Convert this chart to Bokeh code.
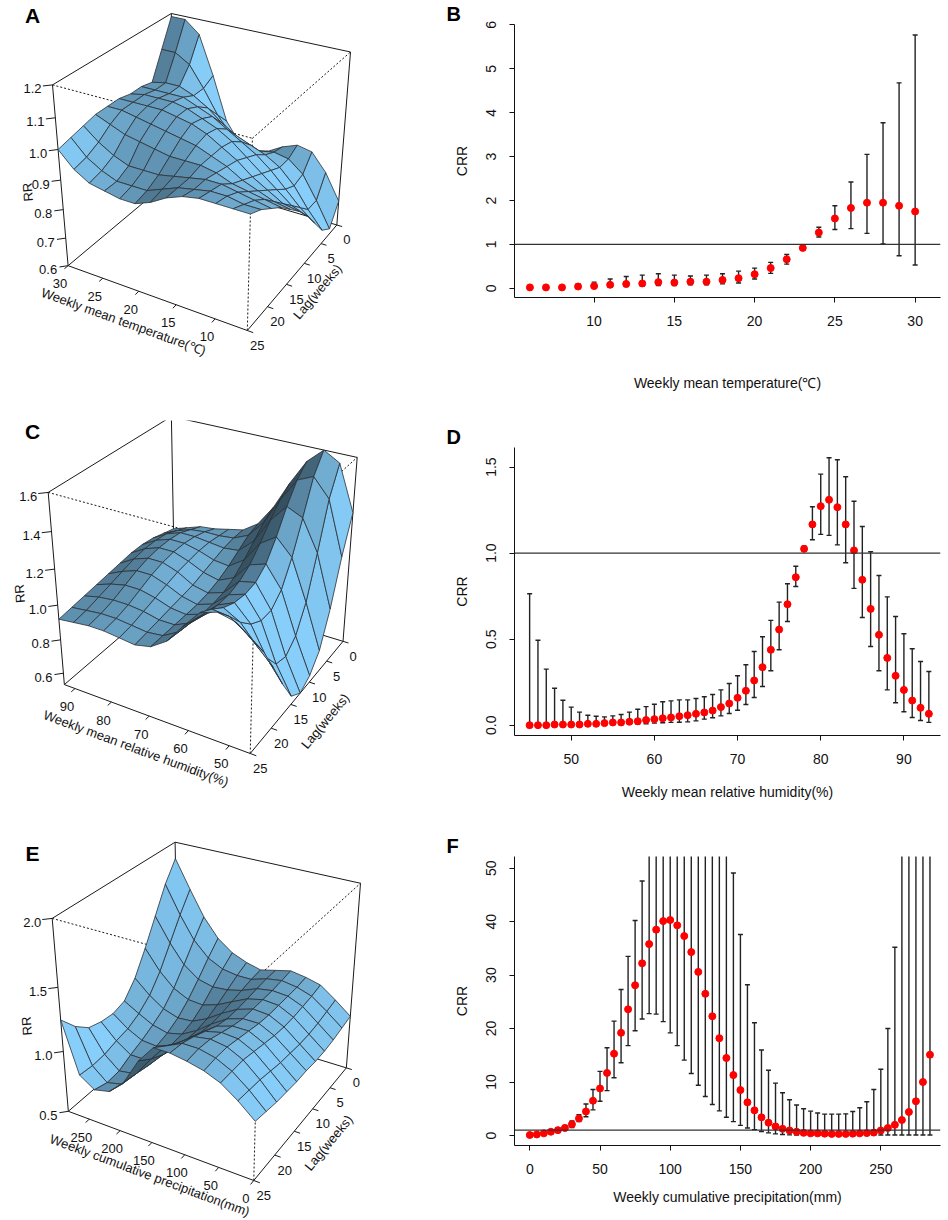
import math
import numpy as np
from bokeh.plotting import figure
from bokeh.models import Range1d, Span, FixedTicker, NumeralTickFormatter
from bokeh.layouts import column, row
from bokeh.embed import file_html
from bokeh.resources import INLINE
from bokeh.core.properties import value

FONT = "Liberation Sans"

# ------------------------------------------------------------------ panel B
temp_x = [6, 7, 8, 9, 10, 11, 12, 13, 14, 15, 16, 17, 18, 19, 20, 21, 22, 23, 24, 25, 26, 27, 28, 29, 30]
temp_crr = [0.02, 0.02, 0.02, 0.04, 0.05, 0.08, 0.10, 0.11, 0.14, 0.13, 0.15, 0.15, 0.19, 0.23, 0.32,
            0.46, 0.66, 0.92, 1.27, 1.59, 1.83, 1.95, 1.95, 1.88, 1.75]
temp_lo = [0.01, 0.01, 0.01, 0.015, 0.02, 0.03, 0.04, 0.05, 0.06, 0.06, 0.08, 0.08, 0.10, 0.12, 0.21,
           0.34, 0.55, 0.87, 1.17, 1.34, 1.36, 1.25, 1.01, 0.74, 0.53]
temp_hi = [0.04, 0.04, 0.06, 0.10, 0.14, 0.21, 0.27, 0.30, 0.33, 0.30, 0.28, 0.30, 0.33, 0.39, 0.46,
           0.59, 0.77, 0.98, 1.39, 1.88, 2.42, 3.05, 3.77, 4.68, 5.77]
temp_xticks = [10, 15, 20, 25, 30]
temp_yticks = [0, 1, 2, 3, 4, 5, 6]

# ------------------------------------------------------------------ panel D
hum_x = list(range(45, 94))
hum_crr = [0.0, 0.0, 0.0, 0.004, 0.004, 0.004, 0.004, 0.008, 0.008, 0.012, 0.016, 0.016, 0.02, 0.023,
           0.03, 0.035, 0.04, 0.045, 0.052, 0.058, 0.066, 0.074, 0.085, 0.105, 0.126, 0.159, 0.2, 0.26,
           0.337, 0.438, 0.556, 0.703, 0.86, 1.025, 1.167, 1.273, 1.31, 1.267, 1.167, 1.016, 0.845,
           0.676, 0.525, 0.391, 0.287, 0.205, 0.143, 0.101, 0.066]
hum_lo = [0.0, 0.0, 0.0, 0.0, 0.0, 0.0, 0.0, 0.0, 0.001, 0.002, 0.003, 0.004, 0.005, 0.006,
          0.008, 0.012, 0.014, 0.016, 0.017, 0.019, 0.025, 0.035, 0.043, 0.054, 0.068, 0.087, 0.12, 0.161,
          0.225, 0.316, 0.438, 0.603, 0.806, 1.01, 1.078, 1.109, 1.103, 1.048, 0.944, 0.795, 0.626,
          0.457, 0.316, 0.205, 0.13, 0.078, 0.045, 0.027, 0.016]
hum_hi = [0.764, 0.494, 0.326, 0.215, 0.145, 0.105, 0.076, 0.058, 0.052, 0.048, 0.054, 0.062, 0.076, 0.093,
          0.108, 0.122, 0.136, 0.141, 0.147, 0.147, 0.155, 0.165, 0.178, 0.205, 0.242, 0.287, 0.351, 0.428,
          0.514, 0.609, 0.715, 0.822, 0.924, 1.04, 1.27, 1.459, 1.554, 1.543, 1.444, 1.302, 1.155,
          1.008, 0.870, 0.746, 0.632, 0.531, 0.444, 0.370, 0.312]
hum_xticks = [50, 60, 70, 80, 90]
hum_yticks = [0.0, 0.5, 1.0, 1.5]

# ------------------------------------------------------------------ panel F
prec_x = list(range(0, 290, 5))
prec_crr = [0.1, 0.2, 0.4, 0.7, 1.0, 1.4, 2.1, 3.2, 4.5, 6.5, 8.8, 11.7, 15.3, 19.2, 23.6, 28.1, 32.2,
            35.8, 38.5, 40.1, 40.3, 39.3, 37.3, 34.3, 30.6, 26.5, 22.3, 18.2, 14.5, 11.3, 8.5, 6.2, 4.7,
            3.4, 2.4, 1.7, 1.25, 0.95, 0.7, 0.5, 0.4, 0.4, 0.35, 0.3, 0.3, 0.3, 0.35, 0.4, 0.45, 0.55,
            0.95, 1.4, 2.0, 2.9, 4.4, 6.4, 10.0, 15.1]
prec_lo = [0.05, 0.1, 0.25, 0.45, 0.7, 1.0, 1.5, 2.6, 3.5, 4.8, 6.4, 8.4, 10.8, 13.6, 16.8, 19.6, 21.8,
           22.8, 22.7, 21.3, 19.2, 16.8, 14.1, 11.6, 9.4, 7.3, 5.8, 4.6, 3.4, 2.6, 1.9, 1.4, 1.1, 0.75,
           0.5, 0.3, 0.2, 0.12, 0.1, 0.1, 0.1, 0.1, 0.1, 0.1, 0.1, 0.1, 0.1, 0.1, 0.1, 0.1, 0.1, 0.1,
           0.1, 0.1, 0.1, 0.1, 0.1, 0.1]
prec_hi = [0.2, 0.35, 0.6, 1.0, 1.4, 1.9, 2.7, 3.9, 5.9, 8.6, 12.0, 16.4, 21.4, 27.3, 33.5, 40.2, 47.6,
           58, 66, 75, 85, 92, 96, 97, 95, 90, 84, 75, 62, 49.1, 37.6, 28.2, 21.1, 16.0, 12.2, 9.8, 8.0,
           6.7, 5.7, 5.0, 4.55, 4.2, 4.0, 4.0, 4.0, 4.05, 4.5, 5.2, 6.3, 8.6, 12.4, 20.0, 35.2, 60, 85,
           110, 150, 200]
prec_xticks = [0, 50, 100, 150, 200, 250]
prec_yticks = [0, 10, 20, 30, 40, 50]

# ------------------------------------------------------------------ 3-D surfaces (rows = lag)
lag_grid = [0, 2.5, 5, 7.5, 10, 12.5, 15, 17.5, 20, 22.5, 25]
lag_ticks = [0, 5, 10, 15, 20, 25]

temp_grid = [6, 8, 10, 12, 14, 16, 18, 20, 22, 24, 26, 28, 30]
rr_temp = [
    [0.69, 0.78, 0.84, 0.85, 0.83, 0.80, 0.78, 0.80, 0.87, 1.02, 1.15, 1.19, 1.19],
    [0.62, 0.71, 0.79, 0.83, 0.84, 0.83, 0.83, 0.86, 0.92, 1.00, 1.07, 1.10, 1.10],
    [0.65, 0.71, 0.78, 0.83, 0.86, 0.88, 0.90, 0.93, 0.97, 1.00, 1.02, 1.02, 1.01],
    [0.71, 0.75, 0.80, 0.85, 0.89, 0.92, 0.95, 0.98, 1.00, 1.02, 1.02, 1.02, 1.02],
    [0.77, 0.79, 0.83, 0.87, 0.91, 0.95, 0.98, 1.00, 1.02, 1.03, 1.03, 1.03, 1.02],
    [0.82, 0.83, 0.86, 0.89, 0.93, 0.96, 0.99, 1.01, 1.02, 1.03, 1.03, 1.03, 1.03],
    [0.86, 0.87, 0.89, 0.91, 0.94, 0.96, 0.98, 0.99, 1.00, 1.01, 1.02, 1.03, 1.03],
    [0.90, 0.91, 0.92, 0.93, 0.95, 0.96, 0.96, 0.96, 0.97, 0.98, 0.99, 1.01, 1.03],
    [0.93, 0.94, 0.95, 0.96, 0.96, 0.95, 0.94, 0.93, 0.93, 0.93, 0.95, 0.98, 1.02],
    [0.96, 0.96, 0.97, 0.97, 0.96, 0.95, 0.93, 0.91, 0.91, 0.91, 0.93, 0.96, 1.01],
    [0.98, 0.98, 0.98, 0.98, 0.97, 0.95, 0.92, 0.90, 0.90, 0.91, 0.92, 0.95, 1.00],
]
zlim_temp = [0.6, 1.2]
temp3d_ticks = [10, 15, 20, 25, 30]
rr_ticks_temp = [0.6, 0.7, 0.8, 0.9, 1.0, 1.1, 1.2]

hum_grid = [45, 49, 53, 57, 61, 65, 69, 73, 77, 81, 85, 89, 93]
rr_hum = [
    [1.30, 1.55, 1.60, 1.52, 1.38, 1.22, 1.10, 1.04, 1.02, 1.00, 0.99, 0.96, 0.93],
    [1.10, 1.40, 1.50, 1.46, 1.33, 1.18, 1.08, 1.04, 1.03, 1.03, 1.02, 0.99, 0.95],
    [0.85, 1.15, 1.32, 1.36, 1.26, 1.12, 1.04, 1.03, 1.04, 1.05, 1.05, 1.02, 0.97],
    [0.66, 0.92, 1.15, 1.24, 1.18, 1.06, 1.00, 1.01, 1.04, 1.06, 1.06, 1.03, 0.98],
    [0.57, 0.78, 1.02, 1.14, 1.11, 1.01, 0.97, 0.99, 1.03, 1.06, 1.06, 1.03, 0.98],
    [0.53, 0.72, 0.96, 1.09, 1.07, 0.98, 0.95, 0.97, 1.02, 1.05, 1.05, 1.02, 0.97],
    [0.58, 0.74, 0.96, 1.08, 1.05, 0.97, 0.94, 0.96, 1.00, 1.03, 1.03, 1.00, 0.96],
    [0.72, 0.84, 1.00, 1.09, 1.05, 0.97, 0.94, 0.95, 0.98, 1.00, 1.00, 0.98, 0.95],
    [0.88, 0.97, 1.07, 1.12, 1.06, 0.98, 0.94, 0.94, 0.96, 0.97, 0.97, 0.96, 0.94],
    [1.03, 1.10, 1.16, 1.17, 1.09, 0.99, 0.94, 0.93, 0.94, 0.95, 0.95, 0.94, 0.93],
    [1.15, 1.22, 1.24, 1.21, 1.11, 1.00, 0.94, 0.92, 0.93, 0.94, 0.94, 0.93, 0.92],
]
zlim_hum = [0.53, 1.6]
hum3d_ticks = [50, 60, 70, 80, 90]
rr_ticks_hum = [0.6, 0.8, 1.0, 1.2, 1.4, 1.6]

prec_grid = [0, 24, 48, 71, 95, 119, 143, 166, 190, 214, 238, 261, 285]
rr_prec = [
    [0.95, 1.05, 1.14, 1.17, 1.19, 1.16, 1.13, 1.16, 1.21, 1.30, 1.45, 1.65, 1.87],
    [0.93, 1.03, 1.12, 1.16, 1.18, 1.16, 1.12, 1.12, 1.14, 1.20, 1.32, 1.50, 1.72],
    [0.91, 1.01, 1.11, 1.16, 1.17, 1.15, 1.10, 1.07, 1.06, 1.09, 1.18, 1.33, 1.52],
    [0.90, 1.00, 1.10, 1.16, 1.17, 1.14, 1.08, 1.02, 0.98, 0.99, 1.05, 1.16, 1.32],
    [0.90, 1.00, 1.10, 1.16, 1.17, 1.13, 1.06, 0.98, 0.92, 0.91, 0.95, 1.03, 1.14],
    [0.91, 1.01, 1.11, 1.17, 1.17, 1.13, 1.05, 0.96, 0.89, 0.86, 0.89, 0.95, 1.02],
    [0.91, 1.02, 1.13, 1.19, 1.19, 1.15, 1.06, 0.96, 0.88, 0.83, 0.84, 0.90, 0.99],
    [0.92, 1.04, 1.15, 1.21, 1.22, 1.19, 1.10, 0.98, 0.87, 0.80, 0.80, 0.88, 1.00],
    [0.93, 1.06, 1.17, 1.23, 1.25, 1.23, 1.14, 1.01, 0.88, 0.77, 0.75, 0.85, 1.03],
    [0.95, 1.07, 1.17, 1.23, 1.26, 1.26, 1.20, 1.06, 0.90, 0.77, 0.74, 0.84, 1.12],
    [0.97, 1.08, 1.17, 1.22, 1.25, 1.27, 1.27, 1.13, 0.92, 0.80, 0.77, 0.85, 1.25],
]
zlim_prec = [0.5, 2.0]
prec3d_ticks = [0, 50, 100, 150, 200, 250]
rr_ticks_prec = [0.5, 1.0, 1.5, 2.0]

# ------------------------------------------------------------------ layout constants (page pixels)
ROW_TOP = [0, 420, 830]
ROW_H = [420, 410, 390]
LEFT_W, RIGHT_W = 428, 520
PAGE_LEFT = 0

# persp() viewing parameters
THETA, PHI, EYE = 210.0, 30.0, 9.7
LTHETA, LPHI, SHADE = 290.0, 0.0, 0.75
SKY = (135, 206, 250)
LIGHT = np.array([math.cos(math.radians(LPHI)) * math.sin(math.radians(LTHETA)),
                  -math.cos(math.radians(LPHI)) * math.cos(math.radians(LTHETA)),
                  math.sin(math.radians(LPHI))])


def rotate(xs, ys, zs):
    xs, ys, zs = (np.asarray(v, dtype=float) for v in (xs, ys, zs))
    x1, y1, z1 = xs, zs, -ys
    a = math.radians(-THETA)
    x2 = x1 * math.cos(a) + z1 * math.sin(a)
    z2 = -x1 * math.sin(a) + z1 * math.cos(a)
    b = math.radians(PHI)
    y3 = y1 * math.cos(b) - z2 * math.sin(b)
    z3 = y1 * math.sin(b) + z2 * math.cos(b)
    f = 1.0 / (EYE - z3)
    return x2 * f, y3 * f, z3


def make_3d(row_i, xg, yg, zg, zlim, xticks, yticks, zticks, xlab, ylab, zlab, letter,
            box_px, off_x, off_y, off_z, letter_px):
    xg = np.asarray(xg, float); yg = np.asarray(yg, float); zg = np.asarray(zg, float)
    x0, x1 = float(xg.min()), float(xg.max())
    y0, y1 = float(yg.min()), float(yg.max())
    z0, z1 = float(zlim[0]), float(zlim[1])
    xc, xh = (x0 + x1) / 2, (x1 - x0) / 2
    yc, yh = (y0 + y1) / 2, (y1 - y0) / 2
    zc, zh = (z0 + z1) / 2, (z1 - z0) / 2

    def pr(x, y, z):
        return rotate((np.asarray(x, float) - xc) / xh, (np.asarray(y, float) - yc) / yh,
                      (np.asarray(z, float) - zc) / zh)

    C = {"BL": (x1, y1, z0), "BF": (x0, y1, z0), "BR": (x0, y0, z0), "BB": (x1, y0, z0),
         "TL": (x1, y1, z1), "TF": (x0, y1, z1), "TR": (x0, y0, z1), "TB": (x1, y0, z1)}
    P = {k: tuple(float(t) for t in pr(*v)[:2]) for k, v in C.items()}
    Xs = [v[0] for v in P.values()]; Ys = [v[1] for v in P.values()]
    Xc, Yc = (min(Xs) + max(Xs)) / 2, (min(Ys) + max(Ys)) / 2
    left, top, right, bottom = box_px
    sx = (right - left) / (max(Xs) - min(Xs))
    sy = (bottom - top) / (max(Ys) - min(Ys))
    cx, cy = (left + right) / 2, (top + bottom) / 2
    FT, H = ROW_TOP[row_i], ROW_H[row_i]
    p = figure(width=LEFT_W, height=H, output_backend="svg", toolbar_location=None,
               x_range=Range1d(Xc + (PAGE_LEFT - cx) / sx, Xc + (PAGE_LEFT + LEFT_W - cx) / sx),
               y_range=Range1d(Yc + (cy - FT - H) / sy, Yc + (cy - FT) / sy),
               x_axis_location=None, y_axis_location=None,
               min_border=0, min_border_left=0, min_border_right=0, min_border_top=0, min_border_bottom=0)
    p.grid.visible = False
    p.outline_line_color = None
    p.background_fill_color = "white"
    p.border_fill_color = "white"

    def ang(a, b):
        return math.atan2((b[1] - a[1]) * sy, (b[0] - a[0]) * sx)

    # box: back edges solid, front edges dotted (drawn before the surface)
    solid = [("BL", "BF"), ("BF", "BR"), ("BR", "BB"), ("BB", "BL"), ("BB", "TB"), ("TB", "TL"),
             ("TL", "BL"), ("BR", "TR"), ("TR", "TB")]
    dotted = [("TL", "TF"), ("TF", "TR"), ("BF", "TF")]
    p.multi_line([[P[a][0], P[b][0]] for a, b in solid], [[P[a][1], P[b][1]] for a, b in solid],
                 line_color="#1a1a1a", line_width=1)
    p.multi_line([[P[a][0], P[b][0]] for a, b in dotted], [[P[a][1], P[b][1]] for a, b in dotted],
                 line_color="#1a1a1a", line_width=1, line_dash="2 2")

    # ticks + tick labels
    tx, ty, lx, ly, lt, lxo, lyo = [], [], [], [], [], [], []
    xr, yr = x1 - x0, y1 - y0
    for t in xticks:
        a = pr(t, y1, z0); b = pr(t, y1 + 0.03 * yr, z0)
        tx.append([float(a[0]), float(b[0])]); ty.append([float(a[1]), float(b[1])])
        lx.append(float(a[0])); ly.append(float(a[1])); lt.append(str(t)); lxo.append(-8); lyo.append(18)
    for t in yticks:
        a = pr(x0, t, z0); b = pr(x0 - 0.03 * xr, t, z0)
        tx.append([float(a[0]), float(b[0])]); ty.append([float(a[1]), float(b[1])])
        lx.append(float(a[0])); ly.append(float(a[1])); lt.append(str(t)); lxo.append(10); lyo.append(15)
    for t in zticks:
        a = pr(x1, y1, t); b = pr(x1 + 0.03 * xr, y1 + 0.03 * yr, t)
        tx.append([float(a[0]), float(b[0])]); ty.append([float(a[1]), float(b[1])])
        lx.append(float(a[0])); ly.append(float(a[1])); lt.append("%.1f" % t); lxo.append(-20); lyo.append(4)
    p.multi_line(tx, ty, line_color="#1a1a1a", line_width=1)
    p.text(x=lx, y=ly, text=lt, x_offset=lxo, y_offset=lyo, text_font=value(FONT),
           text_font_size=value("13px"), text_align="center", text_baseline="middle", text_color="#111111")

    # axis titles
    mx = pr((x0 + x1) / 2, y1, z0); my = pr(x0, (y0 + y1) / 2, z0); mz = pr(x1, y1, (z0 + z1) / 2)
    p.text(x=[float(mx[0]), float(my[0]), float(mz[0])], y=[float(mx[1]), float(my[1]), float(mz[1])],
           text=[xlab, ylab, zlab],
           angle=[ang(P["BL"], P["BF"]), ang(P["BF"], P["BR"]), ang(P["BL"], P["TL"])],
           x_offset=[off_x[0], off_y[0], off_z[0]], y_offset=[off_x[1], off_y[1], off_z[1]],
           text_font=value(FONT), text_font_size=value("13px"), text_align="center",
           text_baseline="middle", text_color="#111111")

    # surface facets, painter's order (far to near), shaded like persp(shade=0.75)
    nx, ny = len(xg), len(yg)
    polys = []
    for j in range(ny - 1):
        for i in range(nx - 1):
            qx = [xg[i], xg[i + 1], xg[i + 1], xg[i]]
            qy = [yg[j], yg[j], yg[j + 1], yg[j + 1]]
            qz = [zg[j, i], zg[j, i + 1], zg[j + 1, i + 1], zg[j + 1, i]]
            X, Y, D = pr(qx, qy, qz)
            dx = (xg[i + 1] - xg[i]) / xh
            dy = (yg[j + 1] - yg[j]) / yh
            u = np.array([dx, -dy, (zg[j, i + 1] - zg[j + 1, i]) / zh])
            v = np.array([dx, dy, (zg[j + 1, i + 1] - zg[j, i]) / zh])
            n = np.cross(u, v)
            n = n / (np.linalg.norm(n) or 1.0)
            s = (0.5 * (float(n @ LIGHT) + 1.0)) ** SHADE
            s = min(1.0, 0.25 + 0.85 * s)
            col = "#%02x%02x%02x" % tuple(int(s * c) for c in SKY)
            polys.append((float(np.mean(D)), [float(t) for t in X], [float(t) for t in Y], col))
    polys.sort(key=lambda t: t[0])
    p.patches([q[1] for q in polys], [q[2] for q in polys], fill_color=[q[3] for q in polys],
              line_color="#2b2f33", line_width=0.8)

    # panel letter
    Lx = Xc + (letter_px[0] - cx) / sx
    Ly = Yc + (cy - letter_px[1]) / sy
    p.text(x=[Lx], y=[Ly], text=[letter], text_font=value(FONT), text_font_size=value("21px"),
           text_font_style="bold", text_align="center", text_baseline="middle", text_color="black")
    return p


BORDER_L, BORDER_R = 86, 8   # common left/right borders of the right-hand column


def make_2d(row_i, x, crr, lo, hi, xr, yr, xticks, yticks, xlab, letter, borders, xlab_standoff,
            yfmt=None):
    bt, bb = borders
    p = figure(width=RIGHT_W, height=ROW_H[row_i], output_backend="svg", toolbar_location=None,
               x_range=Range1d(*xr), y_range=Range1d(*yr), title=letter,
               min_border_left=BORDER_L, min_border_right=BORDER_R, min_border_top=bt, min_border_bottom=bb)
    p.title.text_font = FONT
    p.title.text_font_size = "20px"
    p.title.text_font_style = "bold"
    p.title.text_color = "black"
    p.title.align = "left"
    p.title.offset = 446 - (PAGE_LEFT + LEFT_W + BORDER_L)
    p.title.standoff = 0
    p.grid.visible = False
    p.outline_line_color = None
    p.background_fill_color = "white"
    p.border_fill_color = "white"
    p.segment(x0=x, y0=lo, x1=x, y1=hi, line_color="#222222", line_width=1.4)
    p.scatter(x=x, y=hi, marker="dash", size=5, line_color="#222222", line_width=1.4)
    p.scatter(x=x, y=lo, marker="dash", size=5, line_color="#222222", line_width=1.4)
    p.add_layout(Span(location=1, dimension="width", line_color="#333333", line_width=1.3))
    p.scatter(x=x, y=crr, size=7, fill_color="#ff0000", line_color="#ff0000")

    p.xaxis.ticker = FixedTicker(ticks=xticks)
    p.yaxis.ticker = FixedTicker(ticks=yticks)
    if yfmt:
        p.yaxis.formatter = NumeralTickFormatter(format=yfmt)
    p.axis.minor_tick_line_color = None
    p.axis.major_tick_out = 5
    p.axis.major_tick_in = 0
    p.axis.axis_line_color = "#111111"
    p.axis.major_tick_line_color = "#111111"
    p.axis.major_label_text_font = FONT
    p.axis.major_label_text_font_size = "14px"
    p.axis.major_label_text_color = "#111111"
    p.axis.major_label_standoff = 13
    p.yaxis.major_label_orientation = "vertical"
    p.xaxis.axis_label = xlab
    p.yaxis.axis_label = "CRR"
    p.axis.axis_label_text_font = FONT
    p.axis.axis_label_text_font_size = "14px"
    p.axis.axis_label_text_font_style = "normal"
    p.axis.axis_label_text_color = "#111111"
    p.xaxis.axis_label_standoff = xlab_standoff
    p.yaxis.axis_label_standoff = 14
    return p


pA = make_3d(0, temp_grid, lag_grid, rr_temp, zlim_temp, temp3d_ticks, lag_ticks, rr_ticks_temp,
             "Weekly mean temperature(\u2103)", "Lag(weeks)", "RR", "A",
             (52, 13, 350, 330), (-30, 25), (22, 18), (-33, 12), (32, 15))
pC = make_3d(1, hum_grid, lag_grid, rr_hum, zlim_hum, hum3d_ticks, lag_ticks, rr_ticks_hum,
             "Weekly mean relative humidity(%)", "Lag(weeks)", "RR", "C",
             (47.7, 416, 356.7, 753), (-17, 31), (25, 28), (-37, 0), (32, 431))
pE = make_3d(2, prec_grid, lag_grid, rr_prec, zlim_prec, prec3d_ticks, lag_ticks, rr_ticks_prec,
             "Weekly cumulative precipitation(mm)", "Lag(weeks)", "RR", "E",
             (51.7, 841.7, 360, 1180), (-7, 31), (25, 23), (-34, 6), (32, 853))

# frame right edge at page x 940 for all right-hand panels
pB = make_2d(0, temp_x, temp_crr, temp_lo, temp_hi, (5.04, 31.58), (-0.21, 6.01), temp_xticks,
             temp_yticks, "Weekly mean temperature(\u2103)", "B", (24, 123), 46)
pD = make_2d(1, hum_x, hum_crr, hum_lo, hum_hi, (43.18, 94.40), (-0.06, 1.614), hum_xticks,
             hum_yticks, "Weekly mean relative humidity(%)", "D", (27, 95), 17, "0.0")
pF = make_2d(2, prec_x, prec_crr, prec_lo, prec_hi, (-10.9, 292.5), (-1.87, 52.18), prec_xticks,
             prec_yticks, "Weekly cumulative precipitation(mm)", "F", (26, 75), 12)

layout = row(column(pA, pC, pE), column(pB, pD, pF))
open("out.html", "w").write(file_html(layout, INLINE))
